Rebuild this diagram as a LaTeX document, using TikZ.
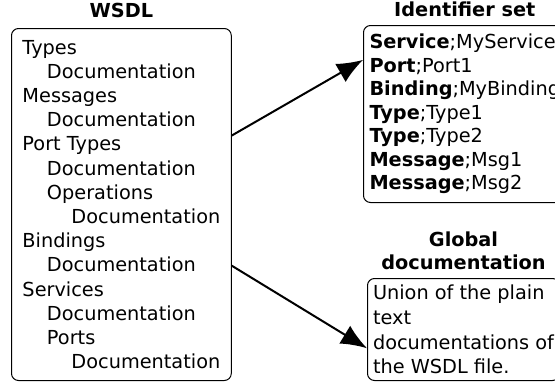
\documentclass[tikz,border=0pt]{standalone}
\usepackage{fontspec}
\setmainfont{DejaVu Sans}
\usetikzlibrary{arrows.meta, positioning}

\tikzset{
    listbox/.style={draw, line width=1pt, rounded corners=7pt, align=left, anchor=north west},
    boxtitle/.style={inner sep=0pt, align=center, font=\fontsize{19.3}{23}\selectfont\bfseries},
    linkarrow/.style={line width=2pt, -{Latex[length=26pt, width=21pt]}}
}
\newcommand{\ind}{\hspace*{24.5pt}}

\begin{document}
\begin{tikzpicture}[x=1pt, y=-1pt]
    \useasboundingbox (0,0) rectangle (555,383);
    \clip (0,0) rectangle (555,383);

    % WSDL structure
    \node[listbox, minimum width=219pt, minimum height=352pt, inner xsep=11pt,
          font=\fontsize{19.3}{24.2}\selectfont] (wsdl) at (11,28)
        {Types\\ \ind Documentation\\ Messages\\ \ind Documentation\\ Port Types\\
         \ind Documentation\\ \ind Operations\\ \ind\ind Documentation\\ Bindings\\
         \ind Documentation\\ Services\\ \ind Documentation\\ \ind Ports\\ \ind\ind Documentation};
    \node[boxtitle, above=10pt of wsdl] (wsdltitle) {WSDL};

    % Identifier set
    \node[listbox, minimum width=198pt, minimum height=177pt, inner xsep=6pt,
          font=\fontsize{19.3}{23.5}\selectfont] (idset) at (363,25)
        {\textbf{Service};MyService\\ \textbf{Port};Port1\\ \textbf{Binding};MyBinding\\
         \textbf{Type};Type1\\ \textbf{Type};Type2\\ \textbf{Message};Msg1\\ \textbf{Message};Msg2};
    \node[boxtitle, above=8pt of idset] (idtitle) {Identifier set};

    % Global documentation
    \node[listbox, minimum width=192pt, minimum height=102pt, inner xsep=5pt,
          font=\fontsize{19.3}{24.7}\selectfont] (gdoc) at (367,278)
        {Union of the plain\\ text\\ documentations of\\ the WSDL file.};
    \node[boxtitle, above=8pt of gdoc] (gdoctitle) {Global\\ documentation};

    % Links
    \draw[linkarrow] (wsdl.32) -- (idset.152);
    \draw[linkarrow] (wsdl.-29) -- (gdoc.191);
\end{tikzpicture}
\end{document}
